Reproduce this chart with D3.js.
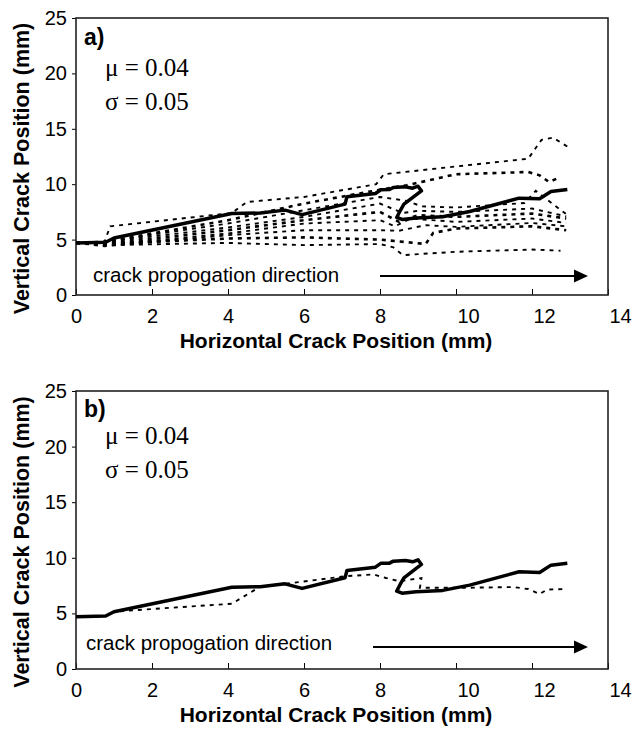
<!DOCTYPE html>
<html>
<head>
<meta charset="utf-8">
<script src="https://cdn.jsdelivr.net/npm/d3@7"></script>
<style>
  body { margin: 0; background: #fff; }
  text { font-family: "Liberation Sans", Arial, sans-serif; fill: #000; }
</style>
</head>
<body>
<div id="chart"></div>
<script>
// axis ticks
var xTicks = [0, 2, 4, 6, 8, 10, 12, 14];
var yTicks = [0, 5, 10, 15, 20, 25];
var panelNames = ['a)', 'b)'];
var paramLabels = ['\u03bc = 0.04', '\u03c3 = 0.05'];

// main (solid) crack path, mm
var mainPath = [
  [0, 4.7], [0.78, 4.76], [1.0, 5.15], [4.1, 7.35], [4.85, 7.4], [5.5, 7.66],
  [5.95, 7.25], [7.08, 8.2], [7.13, 8.86], [7.88, 9.16], [8.02, 9.5], [8.25, 9.52],
  [8.35, 9.7], [8.67, 9.76], [8.86, 9.64], [9.0, 9.82], [9.09, 9.4], [8.63, 8.2],
  [8.53, 7.6], [8.44, 7.0], [8.58, 6.82], [8.95, 6.95], [9.65, 7.07], [10.36, 7.54],
  [11.66, 8.74], [12.2, 8.68], [12.5, 9.34], [12.93, 9.52]
];

// panel a: other simulated paths (dotted)
var pathsA = [
  [[0, 4.7], [0.75, 4.8], [0.9, 6.2], [4.1, 7.4], [4.5, 8.4], [6.0, 8.85], [7.9, 10.0], [8.1, 10.9], [10.0, 11.6], [11.9, 12.3], [12.25, 14.0], [12.55, 14.2], [12.93, 13.4]],
  [[0, 4.7], [0.75, 4.8], [4.0, 6.75], [6.0, 8.25], [8.0, 9.5], [8.7, 9.9], [10.0, 10.9], [11.9, 11.1], [12.2, 10.8], [12.45, 10.2], [12.75, 10.65]],
  [[0, 4.7], [0.75, 4.8], [4.0, 6.45], [6.0, 7.65], [8.0, 8.85], [8.7, 8.5], [9.1, 8.0], [10.0, 7.9], [11.8, 8.3], [12.1, 9.4], [12.4, 8.6], [12.9, 7.3]],
  [[0, 4.7], [0.75, 4.75], [4.0, 6.1], [6.0, 7.05], [8.0, 8.25], [8.6, 7.4], [9.0, 7.6], [10.0, 7.5], [12.0, 7.8], [12.9, 7.1]],
  [[0, 4.7], [0.75, 4.6], [4.0, 5.85], [6.0, 6.75], [8.0, 7.5], [8.5, 6.6], [9.0, 7.2], [10.0, 7.05], [12.0, 7.35], [12.9, 6.9]],
  [[0, 4.7], [0.75, 4.5], [4.0, 5.55], [6.0, 6.45], [8.0, 6.75], [8.4, 6.2], [8.8, 6.9], [10.0, 6.6], [12.0, 6.9], [12.9, 6.5]],
  [[0, 4.7], [0.75, 4.4], [4.0, 5.4], [6.0, 5.85], [8.0, 5.85], [8.5, 5.8], [9.2, 6.3], [10.0, 6.15], [12.0, 6.5], [12.9, 6.2]],
  [[0, 4.7], [0.75, 4.6], [4.0, 5.1], [6.0, 5.2], [8.0, 5.0], [9.2, 4.6], [9.4, 5.6], [10.0, 6.0], [12.0, 6.2], [12.9, 5.85]],
  [[0, 4.7], [0.75, 4.5], [4.0, 4.7], [6.0, 4.5], [8.0, 4.6], [8.35, 4.3], [8.6, 3.6], [10.0, 3.9], [12.0, 4.1], [12.75, 4.0]]
];

// panel b: single comparison path (dotted)
var pathsB = [
  [[0, 4.7], [0.78, 4.76], [1.0, 5.15], [1.85, 5.36], [4.1, 5.87], [4.65, 7.0], [4.85, 7.4], [5.5, 7.66],
   [7.1, 8.35], [7.83, 8.5], [8.16, 8.18], [8.5, 7.9], [9.09, 8.18], [9.05, 7.3], [10.2, 7.3],
   [11.5, 7.37], [11.9, 7.19], [12.2, 6.74], [12.4, 7.15], [12.92, 7.19]]
];

var W = 636, H = 731;
var svg = d3.select('#chart').append('svg')
    .attr('width', W)
    .attr('height', H);

var panels = [
  { top: 18, bottom: 295, name: panelNames[0], paths: pathsA, nameY: 27, muY: 58, sigY: 92, textX: 93, textY: 13, arrowX: 380, arrowY: 19 },
  { top: 391, bottom: 669, name: panelNames[1], paths: pathsB, nameY: 26, muY: 53, sigY: 87, textX: 86, textY: 19, arrowX: 373, arrowY: 22 }
];
var left = 76, right = 608;

panels.forEach(function (p, i) {
  var x = d3.scaleLinear().domain([0, 14]).range([left, right]);
  var y = d3.scaleLinear().domain([0, 25]).range([p.bottom, p.top]);
  var g = svg.append('g');

  // x axis, ticks pointing into the plot
  var xa = g.append('g')
      .attr('transform', 'translate(0,' + p.bottom + ')')
      .call(d3.axisBottom(x).tickValues(xTicks).tickSizeInner(-6).tickSizeOuter(0).tickPadding(14));
  xa.select('.domain').remove();
  xa.selectAll('line').attr('stroke', '#000').attr('stroke-width', 1);
  xa.selectAll('text')
      .style('font-size', '20px')
      .attr('dx', function (d) { return d >= 10 ? 12 : 0; });

  var ya = g.append('g')
      .attr('transform', 'translate(' + left + ',0)')
      .call(d3.axisLeft(y).tickValues(yTicks).tickSizeInner(4).tickSizeOuter(0).tickPadding(5));
  ya.select('.domain').remove();
  ya.selectAll('line').attr('stroke', '#000').attr('stroke-width', 1);
  ya.selectAll('text').style('font-size', '20px');

  // frame
  g.append('rect')
      .attr('x', left).attr('y', p.top)
      .attr('width', right - left).attr('height', p.bottom - p.top)
      .attr('fill', 'none').attr('stroke', '#222').attr('stroke-width', 1.6);

  var line = d3.line().x(function (d) { return x(d[0]); }).y(function (d) { return y(d[1]); });

  p.paths.forEach(function (path, k) {
    g.append('path')
        .attr('d', line(path))
        .attr('fill', 'none')
        .attr('stroke', '#000')
        .attr('stroke-width', k % 3 === 1 ? 2.6 : 1.9)
        .attr('stroke-dasharray', '4,5');
  });

  g.append('path')
      .attr('d', line(mainPath))
      .attr('fill', 'none')
      .attr('stroke', '#000')
      .attr('stroke-width', 3.5)
      .attr('stroke-linejoin', 'round');

  // labels
  g.append('text')
      .attr('x', left + 8).attr('y', p.top + p.nameY)
      .style('font-size', '23px').style('font-weight', 'bold')
      .text(p.name);
  [p.muY, p.sigY].forEach(function (dy, k) {
    g.append('text')
        .attr('x', left + 29).attr('y', p.top + dy)
        .style('font-family', '"Liberation Serif", "Times New Roman", serif')
        .style('font-size', '25px')
        .text(paramLabels[k]);
  });

  // propagation arrow
  var ay = p.bottom - p.arrowY;
  g.append('text')
      .attr('x', p.textX).attr('y', p.bottom - p.textY)
      .style('font-size', '20.5px')
      .text('crack propogation direction');
  g.append('line')
      .attr('x1', p.arrowX).attr('x2', 576)
      .attr('y1', ay).attr('y2', ay)
      .attr('stroke', '#000').attr('stroke-width', 2);
  g.append('path')
      .attr('d', 'M588,' + ay + 'l-14,-6.5l0,13z')
      .attr('fill', '#000');

  // axis titles
  g.append('text')
      .attr('x', 336).attr('y', p.bottom + 53)
      .attr('text-anchor', 'middle')
      .style('font-size', '21px').style('font-weight', 'bold')
      .text('Horizontal Crack Position (mm)');
  g.append('text')
      .attr('transform', 'translate(29,' + ((p.top + p.bottom) / 2 + 12) + ') rotate(-90)')
      .attr('text-anchor', 'middle')
      .style('font-size', '21.5px').style('font-weight', 'bold')
      .text('Vertical Crack Position (mm)');
});
</script>
</body>
</html>
